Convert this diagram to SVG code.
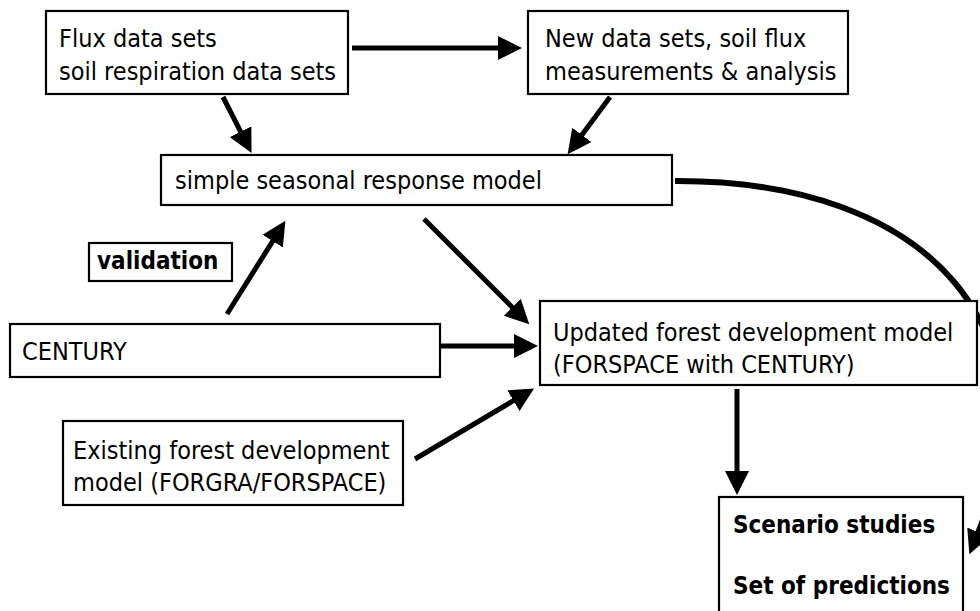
<svg xmlns="http://www.w3.org/2000/svg" width="980" height="611" viewBox="0 0 980 611">
  <style>
    .box { fill: #ffffff; stroke: #000000; stroke-width: 2.2; }
    .txt { font-family: "DejaVu Sans Condensed", "DejaVu Sans", "Liberation Sans", sans-serif; font-stretch: condensed; font-size: 25px; fill: #000000; }
    .bold { font-size: 24px; font-weight: bold; }
    .link { fill: none; stroke: #000000; stroke-width: 5; marker-end: url(#ah); }
  </style>
  <defs>
    <marker id="ah" markerUnits="userSpaceOnUse" markerWidth="24" markerHeight="24" viewBox="0 0 24 24" refX="1" refY="12" orient="auto">
      <path d="M0,0 L24,12 L0,24 Z" fill="#000000"/>
    </marker>
  </defs>
  <rect width="980" height="611" fill="#ffffff"/>

  <g id="connectors">
    <line class="link" x1="352" y1="48" x2="499" y2="48"/>
    <line class="link" x1="223" y1="97" x2="241.1" y2="132.6"/>
    <line class="link" x1="610" y1="97" x2="581.3" y2="135.7"/>
    <line class="link" x1="227" y1="314" x2="273.2" y2="240.3"/>
    <line class="link" x1="424" y1="219" x2="513" y2="308"/>
    <line class="link" x1="414" y1="346" x2="515" y2="346"/>
    <line class="link" x1="415" y1="459" x2="514.3" y2="400.2"/>
    <line class="link" x1="737" y1="389" x2="737" y2="472"/>
    <path class="link" style="stroke-width:6" d="M675,181 C930,180 1060,330 978,533"/>
  </g>

  <g id="flux-data">
    <rect class="box" x="46" y="11" width="302" height="83"/>
    <text class="txt" x="59" y="47">Flux data sets</text>
    <text class="txt" x="59" y="80">soil respiration data sets</text>
  </g>

  <g id="new-data">
    <rect class="box" x="528" y="11" width="320" height="83"/>
    <text class="txt" x="545" y="47">New data sets, soil flux</text>
    <text class="txt" x="545" y="80">measurements &amp; analysis</text>
  </g>

  <g id="seasonal-model">
    <rect class="box" x="161" y="155" width="511" height="50"/>
    <text class="txt" x="175" y="189">simple seasonal response model</text>
  </g>

  <g id="validation">
    <rect class="box" x="89" y="243" width="143" height="38"/>
    <text class="txt bold" x="97" y="269">validation</text>
  </g>

  <g id="century">
    <rect class="box" x="10" y="324" width="430" height="53"/>
    <text class="txt" x="22" y="360">CENTURY</text>
  </g>

  <g id="updated-model">
    <rect class="box" x="540" y="301" width="437" height="84"/>
    <text class="txt" x="553" y="341">Updated forest development model</text>
    <text class="txt" x="553" y="373">(FORSPACE with CENTURY)</text>
  </g>

  <g id="existing-model">
    <rect class="box" x="63" y="421" width="340" height="84"/>
    <text class="txt" x="73" y="459">Existing forest development</text>
    <text class="txt" x="73" y="491">model (FORGRA/FORSPACE)</text>
  </g>

  <g id="scenarios">
    <rect class="box" x="719" y="497" width="244" height="130"/>
    <text class="txt bold" x="733" y="533">Scenario studies</text>
    <text class="txt bold" x="733" y="594">Set of predictions</text>
  </g>
</svg>
